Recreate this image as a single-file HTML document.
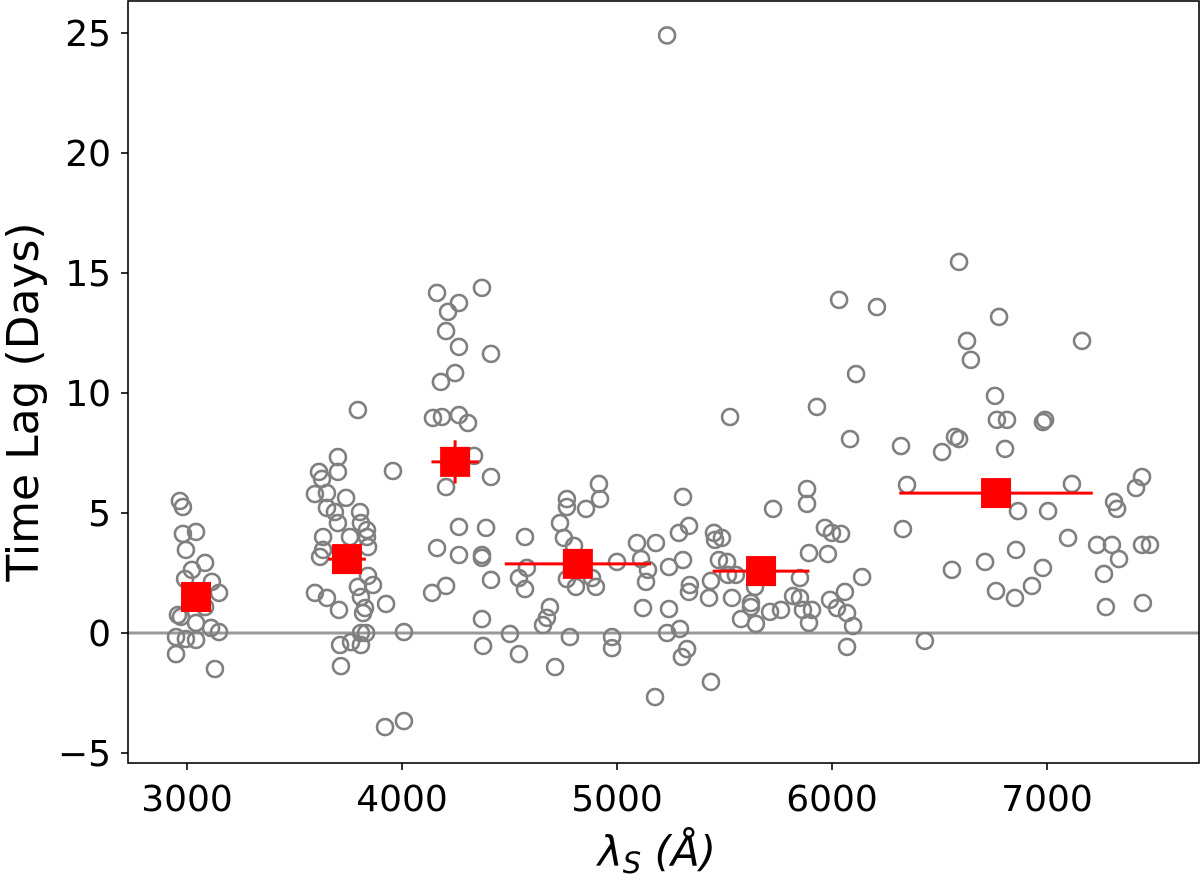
<!DOCTYPE html>
<html><head><meta charset="utf-8"><style>
html,body{margin:0;padding:0;background:#fff;}
svg text{font-family:"DejaVu Sans","Liberation Sans",sans-serif;fill:#000;}
</style></head><body>
<svg id="chart" width="1200" height="876" viewBox="0 0 1200 876" xmlns="http://www.w3.org/2000/svg">
<g id="plot"></g>
</svg>
<script>
const lambdaPts=[2967,2981,2981,3042,2995,3084,3023,2991,3116,3149,2958,2972,3042,3112,3149,2949,2995,3042,2949,3130,3084,
3702,3614,3702,3628,3595,3651,3740,3651,3688,3805,3702,3809,3837,3837,3633,3758,3619,3633,3842,3842,3865,3795,3809,3595,3651,3707,3828,3819,3926,3795,3958,4009,3809,3833,3712,3763,3809,3716,3921,4009,
4163,4265,4214,4372,4205,4265,4414,4247,4181,4144,4186,4265,4307,4335,4205,4414,4265,4391,4163,4265,4372,4372,4414,4205,4140,4372,4377,
4572,4581,4544,4572,4502,4544,4712,4688,4674,4656,4735,4767,4767,4753,4800,4856,4916,4921,4767,4809,4884,4902,4781,5000,4977,4977,5093,5181,5112,5144,5135,5121,5242,5242,5233,5293,5307,5288,5335,5307,5177,5326,5302,5339,5335,5428,5437,5437,5451,5488,5456,5474,5512,5553,5516,5535,5526,5577,5623,5623,5646,5642,5712,5763,5726,5819,5851,5851,5865,5907,5893,5893,5884,5884,5967,6000,6042,5981,5991,6023,6070,6098,6070,6060,6140,5930,6084,6112,
6591,6033,6209,6777,6628,7163,6646,6758,6767,6814,6981,6991,6321,6572,6591,6512,6805,7442,7414,6349,7116,7312,7326,6865,7005,6330,7098,7233,7302,7442,7479,7335,6856,6712,6558,6981,7265,6763,6851,6930,7274,7446,6432,5233];
const lagPts=[5.5,5.25,4.13,4.21,3.46,2.92,2.63,2.25,2.13,1.67,0.75,0.67,0.42,0.21,0.04,-0.17,-0.25,-0.29,-0.88,-1.5,1.08,
7.33,6.71,6.71,6.42,5.79,5.83,5.63,5.21,5.04,5.04,4.58,4.58,4.29,4.0,4.0,4.0,3.17,3.46,3.58,2.38,2.0,1.92,1.5,1.67,1.46,0.96,1.04,0.83,1.21,9.29,6.75,0.04,0.0,0.0,-0.5,-0.38,-0.5,-1.38,-3.92,-3.67,
14.17,13.75,13.38,14.38,12.58,11.92,11.63,10.83,10.46,8.96,9.0,9.08,8.75,7.38,6.08,6.5,4.42,4.38,3.54,3.25,3.25,3.13,2.21,1.96,1.67,0.58,-0.54,
4.0,2.71,2.29,1.83,-0.04,-0.88,-1.42,1.08,0.63,0.33,4.58,5.58,5.25,3.96,3.63,5.17,6.21,5.58,2.25,1.92,2.29,1.92,-0.17,2.96,-0.17,-0.63,3.75,3.75,3.08,2.63,2.13,1.04,2.75,1.0,0.0,0.17,3.04,4.17,4.46,5.67,-2.67,-0.67,-1.0,2.0,1.71,1.46,2.17,-2.04,4.17,3.96,3.88,3.04,2.96,2.42,2.42,1.46,9.0,0.58,1.25,1.08,0.38,1.92,0.88,0.96,5.17,1.54,1.46,2.29,0.96,0.96,0.42,3.33,6.0,5.38,4.38,4.17,4.13,3.29,1.38,1.04,0.83,0.29,-0.58,1.71,2.33,9.42,8.08,10.79,
15.46,13.88,13.58,13.17,12.17,12.17,11.38,9.88,8.88,8.88,8.79,8.88,7.79,8.17,8.08,7.54,7.67,6.5,6.04,6.17,6.21,5.46,5.17,5.08,5.08,4.33,3.96,3.67,3.67,3.67,3.67,3.08,3.46,2.96,2.63,2.71,2.46,1.75,1.46,1.96,1.08,1.25,-0.33,24.9];
const binLambda=[3042,3744,4247,4818,5670,6763];
const binLag=[1.5,3.08,7.13,2.88,2.58,5.83];
const binXerr=[0,88,110,340,225,450];
const binYerr=[0,0,0.9,0,0,0];
const xTicks=[3000,4000,5000,6000,7000];
const yTicks=[-5,0,5,10,15,20,25];
const yTickLabels=["\u22125","0","5","10","15","20","25"];

const NS="http://www.w3.org/2000/svg";
const L=128,R=1199,T=1,B=763;
function xs(v){return 187+(v-3000)*0.215;}
function ys(v){return 633-v*24;}
const svg=document.getElementById('chart');
const plot=document.getElementById('plot');
function mk(tag,attrs,parent){const e=document.createElementNS(NS,tag);for(const k in attrs)e.setAttribute(k,attrs[k]);(parent||svg).appendChild(e);return e;}

const zl=mk('line',{x1:L,x2:R,y1:ys(0),y2:ys(0),stroke:'#999',"stroke-width":3},plot);



for(let i=0;i<lambdaPts.length;i++){
  const c=mk('circle',{cx:xs(lambdaPts[i]),cy:ys(lagPts[i]),r:8,fill:'none',stroke:'#808080',"stroke-width":2.6},plot);
  
  
}
for(let i=0;i<binLambda.length;i++){
  const g=mk('g',{},plot);
  
  
  const cx=xs(binLambda[i]),cy=ys(binLag[i]);
  if(binXerr[i]>0)mk('line',{x1:xs(binLambda[i]-binXerr[i]),x2:xs(binLambda[i]+binXerr[i]),y1:cy,y2:cy,stroke:'#ff0000',"stroke-width":3},g);
  if(binYerr[i]>0)mk('line',{x1:cx,x2:cx,y1:ys(binLag[i]-binYerr[i]),y2:ys(binLag[i]+binYerr[i]),stroke:'#ff0000',"stroke-width":3},g);
  mk('rect',{x:cx-15,y:cy-15,width:30,height:30,fill:'#ff0000'},g);
}
const frame=mk('rect',{x:L,y:T,width:R-L,height:B-T,fill:'none',stroke:'#000',"stroke-width":1.6});


for(let i=0;i<xTicks.length;i++){
  const x=xs(xTicks[i]);
  mk('line',{x1:x,x2:x,y1:B,y2:B+7,stroke:'#000',"stroke-width":1.6});
  const t=mk('text',{x:x,y:811,"text-anchor":"middle","font-size":36});
  t.textContent=String(xTicks[i]);
  
  
}
for(let i=0;i<yTicks.length;i++){
  const y=ys(yTicks[i]);
  mk('line',{x1:L-7,x2:L,y1:y,y2:y,stroke:'#000',"stroke-width":1.6});
  const t=mk('text',{x:111,y:y+13,"text-anchor":"end","font-size":36});
  t.textContent=yTickLabels[i];
  
  
}
</script>
<svg style="position:absolute;left:0;top:0" width="1200" height="876" xmlns="http://www.w3.org/2000/svg">
<text x="0" y="0" font-size="44" text-anchor="middle" transform="translate(38,402) rotate(-90)" style="font-family:'DejaVu Sans','Liberation Sans',sans-serif">Time Lag (Days)</text>
<text x="657" y="866" font-size="42" text-anchor="middle" style="font-family:'DejaVu Sans','Liberation Sans',sans-serif;font-style:italic">λ<tspan font-size="29" dy="7">S</tspan><tspan dy="-7"> (Å)</tspan></text>
</svg>
</body></html>
